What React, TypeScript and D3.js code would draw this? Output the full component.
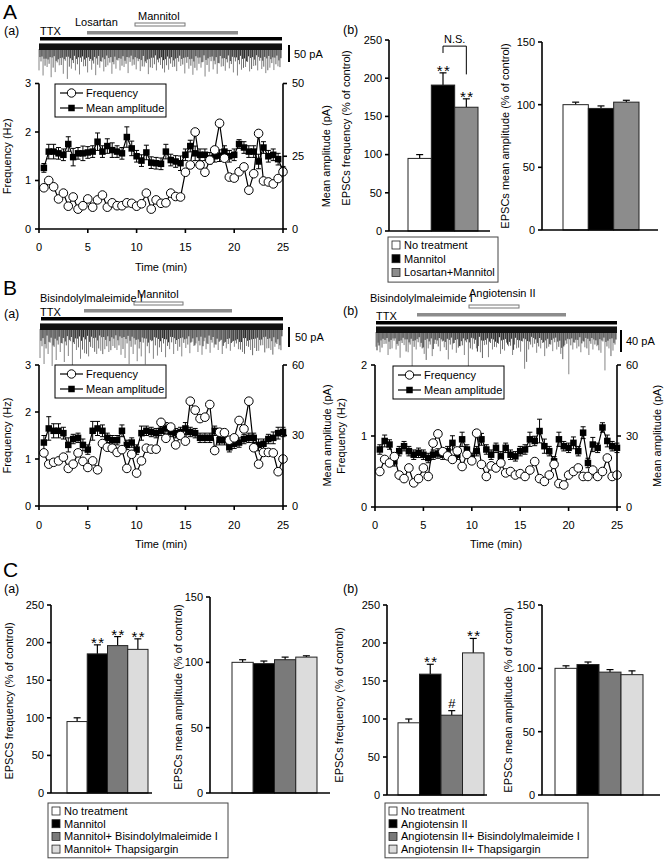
import React from "react";
import * as d3 from "d3";

if (typeof document !== "undefined") document.body.style.margin = "0";

const FONT = "'Liberation Sans', Arial, Helvetica, sans-serif";

// ---------- time course data ----------
const timePoints = [0.5, 1, 1.5, 2, 2.5, 3, 3.5, 4, 4.5, 5, 5.5, 6, 6.5, 7, 7.5, 8, 8.5, 9, 9.5, 10, 10.5, 11, 11.5, 12, 12.5, 13, 13.5, 14, 14.5, 15, 15.5, 16, 16.5, 17, 17.5, 18, 18.5, 19, 19.5, 20, 20.5, 21, 21.5, 22, 22.5, 23, 23.5, 24, 24.5, 25];
const timeTicks = [0, 5, 10, 15, 20, 25];

// A(a) losartan + mannitol
const freqA = [0.85, 1.0, 0.87, 0.62, 0.74, 0.47, 0.66, 0.41, 0.48, 0.62, 0.45, 0.60, 0.70, 0.45, 0.54, 0.48, 0.48, 0.54, 0.53, 0.47, 0.52, 0.74, 0.41, 0.60, 0.53, 0.54, 0.74, 0.67, 0.66, 1.17, 1.32, 2.0, 1.32, 1.17, 1.42, 1.63, 2.18, 1.46, 1.07, 1.05, 1.18, 1.28, 0.80, 1.14, 1.97, 0.99, 0.97, 0.93, 1.04, 1.18];
const ampA = [21, 26.6, 26.6, 26, 25.5, 29.2, 24.7, 26, 26, 26.3, 26.6, 30, 26.6, 28.5, 27.1, 26.6, 26, 31.6, 27.7, 25, 23.5, 26.3, 22.8, 22.6, 22.4, 26.6, 23.7, 23.2, 22.6, 25.5, 28.5, 26, 25.5, 25.5, 24.3, 25, 25.2, 26.6, 25, 25.5, 29.2, 28, 26.6, 26.6, 23.2, 28, 25, 25.5, 24, 20];
const ampErrA = [1.5, 2.5, 2.5, 2, 2, 2.5, 3, 2, 2.5, 2, 2, 3, 2, 2.5, 2.5, 2, 2, 3.5, 2.5, 2, 2, 2.5, 2, 2, 2, 2.5, 2, 2, 2.5, 2, 2, 2.5, 2, 2, 2, 2, 2, 2, 2, 2, 1.5, 2, 2, 2, 2.5, 2, 2, 2, 2, 1.5];

// B(a) bisindolylmaleimide I + mannitol
const freqBa = [1.13, 0.89, 0.93, 0.96, 1.04, 0.80, 0.89, 1.13, 0.95, 0.82, 0.96, 0.77, 1.33, 1.25, 1.23, 1.14, 1.20, 0.80, 1.10, 0.70, 0.96, 1.23, 1.21, 1.21, 1.78, 1.44, 1.68, 1.30, 1.50, 1.38, 2.23, 2.04, 1.86, 1.89, 2.16, 1.18, 1.57, 1.56, 1.40, 1.45, 1.82, 1.64, 2.23, 1.24, 0.89, 1.14, 1.14, 1.13, 0.73, 1.00];
const ampBa = [27, 33, 32, 32, 31, 26, 28.5, 29, 26, 24, 32, 33, 32, 29, 28, 28, 32, 26, 27, 24, 31, 32, 31.5, 31, 32, 33, 31.5, 31, 31.5, 33, 31.5, 31, 29, 29, 29, 32, 28, 28, 25, 26.5, 27, 28.5, 29, 29, 26, 26.5, 28.5, 29, 31, 31.5];
const ampErrBa = [3, 5, 3, 3, 2.5, 3, 2, 2, 2.5, 2, 4, 3, 2.5, 2, 2, 2, 2.5, 2, 2, 2, 3, 2, 2, 2, 2, 2.5, 2, 2, 2, 2.5, 2, 2, 2, 2, 2, 2, 2, 2, 2, 2, 2, 2, 2, 2, 2.5, 2, 2, 2.5, 2.5, 2];

// B(b) bisindolylmaleimide I + angiotensin II
const freqBb = [0.50, 0.67, 0.62, 0.71, 0.45, 0.40, 0.55, 0.34, 0.40, 0.55, 0.43, 0.90, 1.03, 0.78, 0.72, 0.67, 0.79, 0.57, 0.74, 0.65, 1.04, 0.60, 0.43, 0.58, 0.55, 0.62, 0.48, 0.50, 0.45, 0.47, 0.43, 0.52, 0.64, 0.40, 0.36, 0.45, 0.60, 0.33, 0.31, 0.45, 0.50, 0.55, 0.43, 0.43, 0.52, 0.43, 0.50, 0.69, 0.43, 0.45];
const ampBb = [24.3, 27.9, 26.4, 19.3, 23.6, 25.7, 23.6, 22.1, 22.9, 22.1, 20.7, 22.1, 22.6, 22.1, 23.6, 27.1, 22.1, 28.6, 24.3, 20.7, 23.6, 28.6, 24.3, 22.1, 25, 21.4, 25, 22.1, 21.4, 23.6, 24.3, 28.6, 27.9, 32.1, 25.7, 23.6, 19.3, 28.6, 25.7, 25, 27.1, 23.6, 31.4, 18.6, 26.4, 25, 33.6, 27.9, 25.7, 25];
const ampErrBb = [2, 2.5, 2, 2, 2, 2, 2, 2, 2, 2, 2, 2, 2, 2, 2, 3, 2, 3, 2, 2, 2, 2.5, 2, 2, 2, 2, 2, 2, 2, 2, 2, 3, 2, 5, 3, 2, 2, 3, 2, 2, 2.5, 2, 2.5, 2, 3, 2, 2, 2.5, 2, 2];

// raw current traces: downward event amplitudes (pA), left to right
const traceA = [60, 75, 50, 80, 65, 45, 70, 85, 55, 60, 72, 48, 66, 58, 74, 52, 63, 45, 70, 55, 60, 50, 68, 46, 57, 62, 49, 71, 53, 60, 44, 66, 58, 50, 62, 47, 69, 55, 73, 60, 52, 78, 64, 57, 70, 49, 61, 54, 66, 75, 58, 50, 63, 47, 60, 56, 68, 52, 59, 48];
const traceBa = [70, 85, 60, 90, 75, 55, 80, 65, 88, 50, 72, 58, 66, 45, 60, 52, 48, 55, 40, 50, 62, 70, 85, 60, 78, 66, 86, 58, 72, 64, 55, 68, 48, 60, 52, 66, 45, 58, 40, 55, 62, 48, 57, 44, 50, 60, 46, 52, 42, 48, 55, 40, 50, 45, 52, 38, 46, 50, 42, 48];
const traceBb = [25, 35, 20, 40, 28, 30, 45, 22, 35, 60, 30, 25, 38, 28, 42, 20, 33, 26, 48, 30, 36, 24, 40, 70, 30, 28, 35, 22, 44, 30, 26, 38, 32, 24, 40, 28, 34, 65, 30, 26, 36, 28, 42, 25, 33, 30, 38, 22, 75, 30, 28, 35, 26, 40, 30, 24, 36, 68, 28, 32];

// ---------- bar data ----------
const groupsAb = ["No treatment", "Mannitol", "Losartan+Mannitol"];
const freqAb = [95, 191, 162];
const freqErrAb = [5, 16, 11];
const ampAb = [100, 97, 102];
const ampErrAb = [2, 2, 1.5];

const groupsCa = ["No treatment", "Mannitol", "Mannitol+ Bisindolylmaleimide I", "Mannitol+ Thapsigargin"];
const freqCa = [95, 185, 196, 191];
const freqErrCa = [5, 12, 12, 14];
const ampCa = [100, 99, 102, 104];
const ampErrCa = [2, 2, 2, 1];

const groupsCb = ["No treatment", "Angiotensin II", "Angiotensin II+ Bisindolylmaleimide I", "Angiotensin II+ Thapsigargin"];
const freqCb = [95, 159, 105, 187];
const freqErrCb = [5, 13, 6, 19];
const ampCb = [100, 103, 97, 95];
const ampErrCb = [2, 2, 2, 3];

const fills3 = ["#ffffff", "#000000", "#8c8c8c"];
const fills4 = ["#ffffff", "#000000", "#7a7a7a", "#dcdcdc"];

// ---------- components ----------
type TCProps = {
  x0: number; x1: number; yB: number; yT: number;
  fMax: number; fTicks: number[]; aMax: number; aTicks: number[];
  freq: number[]; amp: number[]; ampErr: number[];
  legend: [number, number];
  leftTitleX: number; rightTitleX: number;
  tickY: number; timeY: number;
};

function TimeCourse(p: TCProps) {
  const x = d3.scaleLinear().domain([0, 25]).range([p.x0, p.x1]);
  const yf = d3.scaleLinear().domain([0, p.fMax]).range([p.yB, p.yT]);
  const ya = d3.scaleLinear().domain([0, p.aMax]).range([p.yB, p.yT]);
  const fLine = d3.line<number>().x((_, i) => x(timePoints[i])).y(d => yf(d));
  const aLine = d3.line<number>().x((_, i) => x(timePoints[i])).y(d => ya(d));
  const midY = (p.yB + p.yT) / 2;
  const [lx, ly] = p.legend;
  const sq = 6.5;
  return (
    <g fontFamily={FONT} fontSize={11}>
      {/* amplitude */}
      {p.amp.map((d, i) => {
        const cx = x(timePoints[i]);
        return (
          <g key={"e" + i} stroke="#000" strokeWidth={1}>
            <line x1={cx} x2={cx} y1={ya(d - p.ampErr[i])} y2={ya(d + p.ampErr[i])} />
            <line x1={cx - 2.5} x2={cx + 2.5} y1={ya(d + p.ampErr[i])} y2={ya(d + p.ampErr[i])} />
            <line x1={cx - 2.5} x2={cx + 2.5} y1={ya(d - p.ampErr[i])} y2={ya(d - p.ampErr[i])} />
          </g>
        );
      })}
      <path d={aLine(p.amp) || ""} fill="none" stroke="#000" strokeWidth={1.2} />
      {p.amp.map((d, i) => (
        <rect key={"s" + i} x={x(timePoints[i]) - sq / 2} y={ya(d) - sq / 2} width={sq} height={sq} fill="#000" />
      ))}
      {/* frequency */}
      <path d={fLine(p.freq) || ""} fill="none" stroke="#000" strokeWidth={1.2} />
      {p.freq.map((d, i) => (
        <circle key={"c" + i} cx={x(timePoints[i])} cy={yf(d)} r={4.3} fill="#fff" stroke="#000" strokeWidth={1} />
      ))}
      {/* axes */}
      <g stroke="#000" strokeWidth={1.6}>
        <line x1={p.x0} x2={p.x0} y1={p.yB} y2={p.yT} />
        <line x1={p.x1} x2={p.x1} y1={p.yB} y2={p.yT} />
        <line x1={p.x0} x2={p.x1} y1={p.yB} y2={p.yB} />
        {p.fTicks.map(t => <line key={"lf" + t} x1={p.x0 - 4} x2={p.x0} y1={yf(t)} y2={yf(t)} />)}
        {p.aTicks.map(t => <line key={"la" + t} x1={p.x1} x2={p.x1 + 4} y1={ya(t)} y2={ya(t)} />)}
        {timeTicks.map(t => <line key={"lt" + t} x1={x(t)} x2={x(t)} y1={p.yB} y2={p.yB + 4} />)}
      </g>
      {p.fTicks.map(t => <text key={"tf" + t} x={p.x0 - 8} y={yf(t)} dy="0.35em" textAnchor="end">{t}</text>)}
      {p.aTicks.map(t => <text key={"ta" + t} x={p.x1 + 9} y={ya(t)} dy="0.35em">{t}</text>)}
      {timeTicks.map(t => <text key={"tt" + t} x={x(t)} y={p.tickY} textAnchor="middle">{t}</text>)}
      <text x={(p.x0 + p.x1) / 2} y={p.timeY} textAnchor="middle">Time (min)</text>
      <text transform={`translate(${p.leftTitleX},${midY}) rotate(-90)`} textAnchor="middle">Frequency (Hz)</text>
      <text transform={`translate(${p.rightTitleX},${midY}) rotate(-90)`} textAnchor="middle">Mean amplitude (pA)</text>
      {/* legend */}
      <rect x={lx} y={ly} width={111} height={33} fill="#fff" stroke="#000" strokeWidth={1} />
      <line x1={lx + 5} x2={lx + 28} y1={ly + 9} y2={ly + 9} stroke="#000" strokeWidth={1.2} />
      <circle cx={lx + 16.5} cy={ly + 9} r={4.2} fill="#fff" stroke="#000" />
      <text x={lx + 31} y={ly + 13}>Frequency</text>
      <line x1={lx + 5} x2={lx + 28} y1={ly + 24} y2={ly + 24} stroke="#000" strokeWidth={1.2} />
      <rect x={lx + 16.5 - sq / 2} y={ly + 24 - sq / 2} width={sq} height={sq} fill="#000" />
      <text x={lx + 31} y={ly + 28}>Mean amplitude</text>
    </g>
  );
}

// offsets (px) and relative depths used to thicken the raw trace texture
const traceLayers = [
  { dx: 0, shift: 0, k: 1, color: "#777" },
  { dx: 1, shift: 23, k: 0.45, color: "#222" },
  { dx: 2, shift: 11, k: 0.7, color: "#555" },
  { dx: 3, shift: 37, k: 0.35, color: "#111" },
];

function Trace(p: { x0: number; x1: number; top: number; spikes: number[]; px: number }) {
  const n = p.spikes.length;
  const xs = d3.scaleLinear().domain([0, n]).range([p.x0, p.x1]);
  return (
    <g>
      {traceLayers.map(L =>
        p.spikes.map((_, i) => {
          const d = p.spikes[(i + L.shift) % n];
          const xx = xs(i) + L.dx;
          return (
            <line key={L.dx + "-" + i} x1={xx} x2={xx} y1={p.top + 5} y2={p.top + 6 + d * p.px * L.k}
              stroke={L.color} strokeWidth={0.9} />
          );
        })
      )}
      <rect x={p.x0} y={p.top} width={p.x1 - p.x0} height={6} fill="#111" />
      <rect x={p.x0} y={p.top - 1} width={p.x1 - p.x0} height={1} fill="#777" />
    </g>
  );
}

type BarProps = {
  axisX: number; axisEnd: number; y0: number; yTop: number; max: number; step: number;
  band: [number, number]; values: number[]; errs: number[]; fills: string[];
  title: string; titleX: number; titleY: number;
  marks?: { i: number; text: string; hash?: boolean }[];
  bracket?: { a: number; b: number; top: number; aBot: number; bBot: number; label: string };
};

function BarChart(p: BarProps) {
  const y = d3.scaleLinear().domain([0, p.max]).range([p.y0, p.yTop]);
  const xb = d3.scaleBand<number>().domain(p.values.map((_, i) => i)).range(p.band).padding(0);
  const ticks = d3.range(0, p.max + 1, p.step);
  const cx = (i: number) => (xb(i) as number) + xb.bandwidth() / 2;
  return (
    <g fontFamily={FONT} fontSize={11}>
      {p.values.map((v, i) => (
        <g key={i}>
          <line x1={cx(i)} x2={cx(i)} y1={y(v)} y2={y(v + p.errs[i])} stroke="#000" strokeWidth={1.2} />
          <line x1={cx(i) - 3.5} x2={cx(i) + 3.5} y1={y(v + p.errs[i])} y2={y(v + p.errs[i])} stroke="#000" strokeWidth={1.2} />
          <rect x={xb(i)} y={y(v)} width={xb.bandwidth()} height={p.y0 - y(v)} fill={p.fills[i]} stroke="#222" strokeWidth={1} />
        </g>
      ))}
      <g stroke="#000" strokeWidth={1.6}>
        <line x1={p.axisX} x2={p.axisX} y1={p.y0} y2={p.yTop} />
        <line x1={p.axisX} x2={p.axisEnd} y1={p.y0} y2={p.y0} />
        {ticks.map(t => <line key={t} x1={p.axisX - 4} x2={p.axisX} y1={y(t)} y2={y(t)} />)}
      </g>
      {ticks.map(t => <text key={t} x={p.axisX - 7} y={y(t)} dy="0.35em" textAnchor="end">{t}</text>)}
      <text transform={`translate(${p.titleX},${p.titleY}) rotate(-90)`} textAnchor="middle">{p.title}</text>
      {(p.marks || []).map(m => (
        m.hash
          ? <text key={m.i} x={cx(m.i)} y={y(p.values[m.i] + p.errs[m.i]) - 3} textAnchor="middle" fontSize={13}>{m.text}</text>
          : <text key={m.i} x={cx(m.i) + 1} y={y(p.values[m.i] + p.errs[m.i]) + 3} textAnchor="middle" fontSize={15} letterSpacing={1.5}>{m.text}</text>
      ))}
      {p.bracket && (
        <g>
          <path
            d={`M${cx(p.bracket.a)},${y(p.bracket.aBot)}V${y(p.bracket.top)}H${cx(p.bracket.b)}V${y(p.bracket.bBot)}`}
            fill="none" stroke="#000" strokeWidth={1}
          />
          <text x={(cx(p.bracket.a) + cx(p.bracket.b)) / 2} y={y(p.bracket.top) - 3} textAnchor="middle">{p.bracket.label}</text>
        </g>
      )}
    </g>
  );
}

function BarLegend(p: { x: number; y: number; w: number; rowH: number; labels: string[]; fills: string[] }) {
  const h = p.rowH * p.labels.length + 4;
  return (
    <g fontFamily={FONT} fontSize={11}>
      <rect x={p.x} y={p.y} width={p.w} height={h} fill="#fff" stroke="#444" strokeWidth={1} />
      {p.labels.map((l, i) => {
        const cy = p.y + 8 + i * p.rowH;
        return (
          <g key={l}>
            <rect x={p.x + 4} y={cy - 4} width={8} height={8} fill={p.fills[i]} stroke="#222" strokeWidth={0.8} />
            <text x={p.x + 16} y={cy + 4}>{l}</text>
          </g>
        );
      })}
    </g>
  );
}

function DrugBar(p: { x0: number; x1: number; y: number; kind: "black" | "gray" | "open" }) {
  if (p.kind === "open")
    return <rect x={p.x0} y={p.y} width={p.x1 - p.x0} height={3} fill="#fff" stroke="#777" strokeWidth={1} />;
  return <rect x={p.x0} y={p.y} width={p.x1 - p.x0} height={3.5} fill={p.kind === "black" ? "#000" : "#8c8c8c"} />;
}

export default function App() {
  return (
    <div style={{ width: 665, height: 864 }}>
      <svg width={665} height={864} style={{ display: "block", background: "#fff" }}>
        <g fontFamily={FONT} fontSize={11}>
          {/* ===== A ===== */}
          <text x={3} y={19} fontSize={21}>A</text>
          <text x={4} y={35} fontSize={12.5}>(a)</text>
          <text x={40} y={35}>TTX</text>
          <text x={75} y={26}>Losartan</text>
          <text x={138} y={20}>Mannitol</text>
          <DrugBar x0={135} x1={185} y={23} kind="open" />
          <DrugBar x0={87} x1={238} y={31} kind="gray" />
          <DrugBar x0={40} x1={282} y={37} kind="black" />
          <Trace x0={39} x1={282} top={44} spikes={traceA} px={0.34} />
          <rect x={288} y={45} width={2} height={17} fill="#000" />
          <text x={294} y={58}>50 pA</text>
        </g>
        <TimeCourse x0={39} x1={283} yB={229} yT={83.5} fMax={3} fTicks={[0, 1, 2, 3]} aMax={50} aTicks={[0, 25, 50]}
          freq={freqA} amp={ampA} ampErr={ampErrA} legend={[55, 84]} leftTitleX={11} rightTitleX={330} tickY={251} timeY={271} />

        <text x={343} y={34} fontFamily={FONT} fontSize={12.5}>(b)</text>
        <BarChart axisX={389} axisEnd={490} y0={231} yTop={40} max={250} step={50} band={[408, 478]}
          values={freqAb} errs={freqErrAb} fills={fills3} title="EPSCs frequency (% of control)" titleX={350} titleY={128}
          marks={[{ i: 1, text: "**" }, { i: 2, text: "**" }]}
          bracket={{ a: 1, b: 2, top: 242, aBot: 233, bBot: 205, label: "N.S." }} />
        <BarChart axisX={542} axisEnd={658} y0={230} yTop={42} max={150} step={50} band={[563, 639]}
          values={ampAb} errs={ampErrAb} fills={fills3} title="EPSCs mean amplitude (% of control)" titleX={509} titleY={136} />
        <BarLegend x={388} y={237} w={110} rowH={13.7} labels={groupsAb} fills={fills3} />

        {/* ===== B ===== */}
        <g fontFamily={FONT} fontSize={11}>
          <text x={3} y={295} fontSize={21}>B</text>
          <text x={40} y={302}>Bisindolylmaleimide I</text>
          <text x={137} y={298}>Mannitol</text>
          <text x={4} y={318} fontSize={12.5}>(a)</text>
          <text x={40} y={316}>TTX</text>
          <DrugBar x0={134} x1={183} y={302} kind="open" />
          <DrugBar x0={84} x1={232} y={309} kind="gray" />
          <DrugBar x0={41} x1={283} y={317} kind="black" />
          <Trace x0={40} x1={283} top={324} spikes={traceBa} px={0.4} />
          <rect x={288} y={327} width={2} height={20} fill="#000" />
          <text x={295} y={341}>50 pA</text>

          <text x={343} y={315} fontSize={12.5}>(b)</text>
          <text x={370} y={302}>Bisindolylmaleimide I</text>
          <text x={469} y={297}>Angiotensin II</text>
          <text x={376} y={320}>TTX</text>
          <DrugBar x0={469} x1={519} y={305} kind="open" />
          <DrugBar x0={417} x1={566} y={313} kind="gray" />
          <DrugBar x0={376} x1={617} y={321} kind="black" />
          <Trace x0={376} x1={617} top={327} spikes={traceBb} px={0.55} />
          <rect x={620} y={330} width={2} height={22} fill="#000" />
          <text x={626} y={345}>40 pA</text>
        </g>
        <TimeCourse x0={39} x1={283} yB={506} yT={365} fMax={3} fTicks={[0, 1, 2, 3]} aMax={60} aTicks={[0, 30, 60]}
          freq={freqBa} amp={ampBa} ampErr={ampErrBa} legend={[55, 365]} leftTitleX={11} rightTitleX={331} tickY={529} timeY={548} />
        <TimeCourse x0={375} x1={617} yB={507} yT={365} fMax={2} fTicks={[0, 1, 2]} aMax={60} aTicks={[0, 30, 60]}
          freq={freqBb} amp={ampBb} ampErr={ampErrBb} legend={[393, 366]} leftTitleX={345} rightTitleX={661} tickY={529} timeY={548} />

        {/* ===== C ===== */}
        <text x={3} y={577} fontFamily={FONT} fontSize={21}>C</text>
        <text x={4} y={593} fontFamily={FONT} fontSize={12.5}>(a)</text>
        <BarChart axisX={51} axisEnd={152} y0={793} yTop={605} max={250} step={50} band={[67, 148]}
          values={freqCa} errs={freqErrCa} fills={fills4} title="EPSCS frequency (% of control)" titleX={13} titleY={701}
          marks={[{ i: 1, text: "**" }, { i: 2, text: "**" }, { i: 3, text: "**" }]} />
        <BarChart axisX={210} axisEnd={330} y0={793} yTop={597} max={150} step={50} band={[232, 317]}
          values={ampCa} errs={ampErrCa} fills={fills4} title="EPSCs mean amplitude (% of control)" titleX={182} titleY={697} />
        <BarLegend x={48} y={803} w={180} rowH={12.7} labels={groupsCa} fills={fills4} />

        <text x={343} y={593} fontFamily={FONT} fontSize={12.5}>(b)</text>
        <BarChart axisX={387} axisEnd={487} y0={795} yTop={605} max={250} step={50} band={[398, 484]}
          values={freqCb} errs={freqErrCb} fills={fills4} title="EPSCs frequency (% of control)" titleX={343} titleY={705}
          marks={[{ i: 1, text: "**" }, { i: 2, text: "#", hash: true }, { i: 3, text: "**" }]} />
        <BarChart axisX={542} axisEnd={660} y0={795} yTop={605} max={150} step={50} band={[555, 643]}
          values={ampCb} errs={ampErrCb} fills={fills4} title="EPSCs mean amplitude (% of control)" titleX={512} titleY={700} />
        <BarLegend x={385} y={803} w={203} rowH={12.7} labels={groupsCb} fills={fills4} />
      </svg>
    </div>
  );
}
